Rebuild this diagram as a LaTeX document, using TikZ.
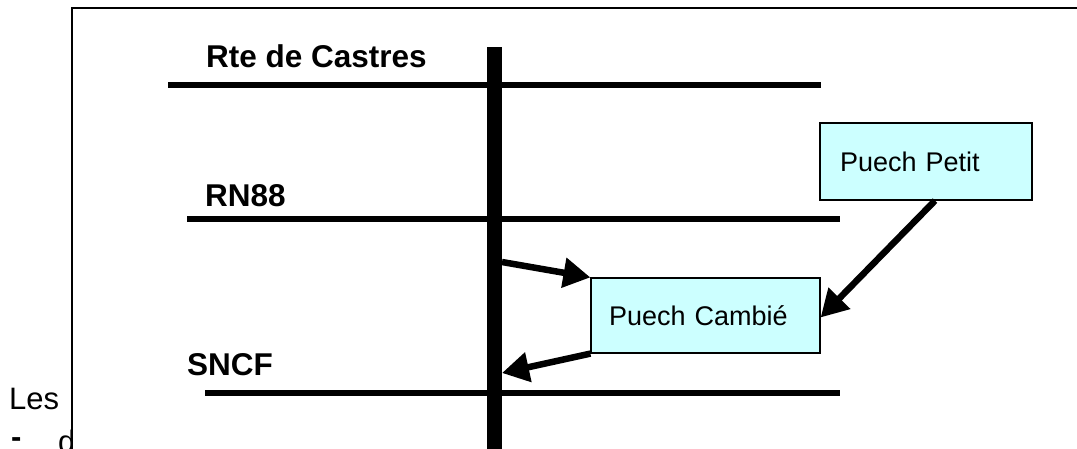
\documentclass[tikz,border=0pt]{standalone}
\usepackage{fontspec}
\setmainfont{Liberation Sans}
\usetikzlibrary{arrows.meta}
\usetikzlibrary{positioning}

\definecolor{cielclair}{RGB}{204,255,255}

\tikzset{
    route/.style={line width=5.5pt},
    nomroute/.style={anchor=base west, inner sep=0pt, font=\fontsize{31.5}{38}\selectfont\bfseries},
    lieu/.style={draw=black, line width=1.2pt, fill=cielclair, align=left,
        font=\fontsize{27}{32}\selectfont},
    fleche/.style={line width=6.5pt, -{Triangle[length=27pt,width=29pt]}},
}

\begin{document}
\begin{tikzpicture}[x=1pt,y=-1pt]
    \useasboundingbox (0,0) rectangle (1077,448);

    % texte de la page derriere le cadre
    \node[anchor=base west, inner sep=0pt, font=\fontsize{31}{37}\selectfont] (les) at (9,409) {Les};
    \node[anchor=base west, inner sep=0pt, font=\fontsize{31}{37}\selectfont\bfseries] (tiret) at (11,447) {-};
    \node[anchor=base west, inner sep=0pt, font=\fontsize{31}{37}\selectfont] (debut) at (58,452) {d};

    % cadre
    \draw[line width=1.5pt, fill=white] (72,8) rectangle (1100,470);

    % routes
    \foreach \xa/\xb/\y/\lx/\ly/\nom/\txt in {168/821/85/206/67/castres/Rte de Castres,
                                              187/840/219/205/206/rn/RN88,
                                              205/840/393/187/375/sncf/SNCF}
    {
        \draw[route] (\xa,\y) -- (\xb,\y);
        \node[nomroute] (\nom) at (\lx,\ly) {\txt};
    }

    % axe vertical
    \draw[line width=15pt] (494.5,47) -- (494.5,470);
    \coordinate (depart) at (502,262);
    \coordinate (arrivee) at (502,373);

    % quartiers
    \node[lieu, text width=172pt, inner xsep=20pt, minimum height=77pt] (petit) at (926,161.5) {Puech Petit};
    \node[lieu, text width=193pt, inner xsep=18pt, minimum height=75pt] (cambie) at (705.5,315.5) {Puech Cambi\'e};

    % fleches
    \draw[fleche] (depart) -- (cambie.north west);
    \draw[fleche] (cambie.south west) -- (arrivee);
    \draw[fleche] ([xshift=9pt]petit.south) -- ([yshift=-2pt]cambie.east);
\end{tikzpicture}
\end{document}
